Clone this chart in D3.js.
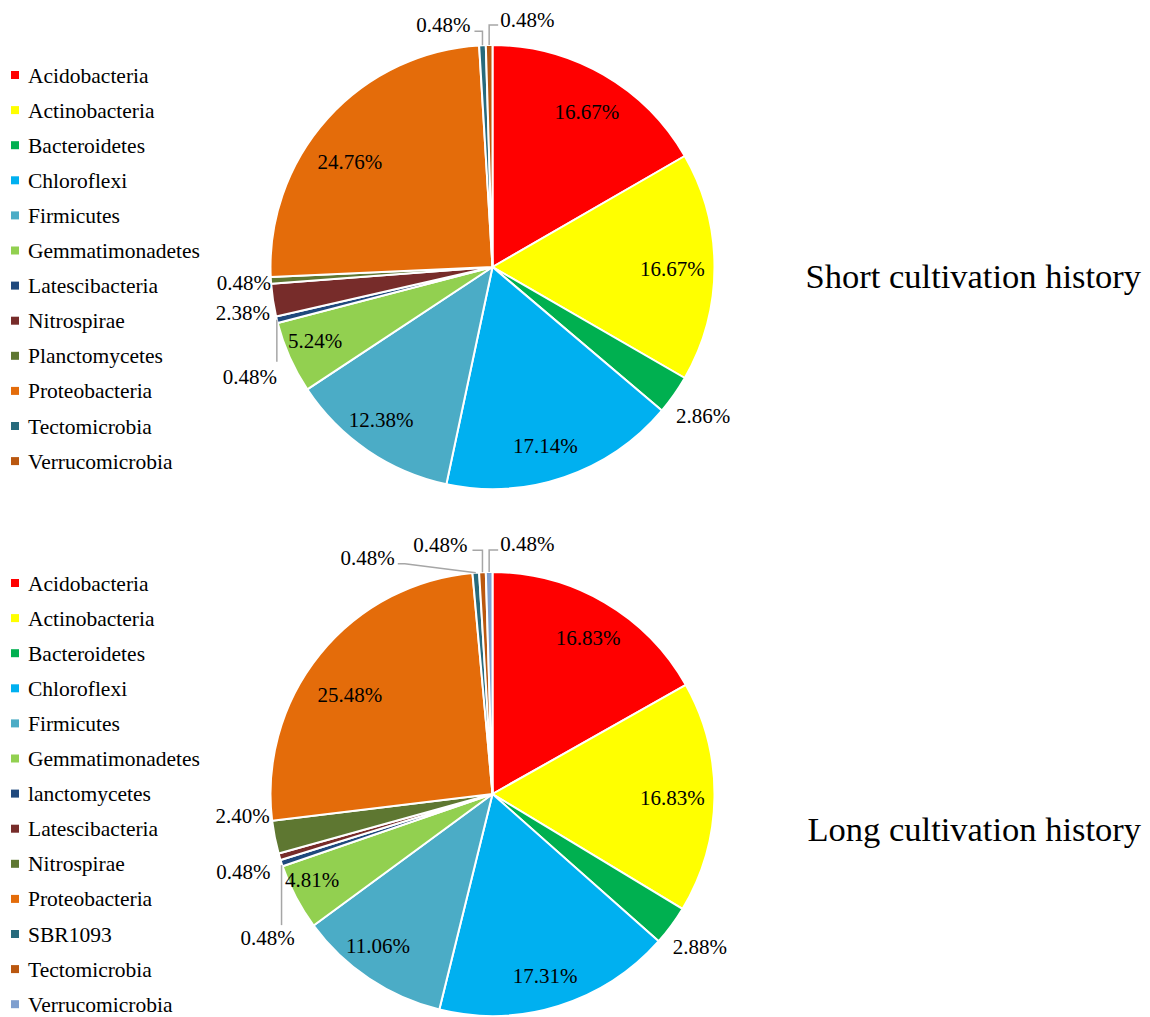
<!DOCTYPE html>
<html>
<head>
<meta charset="utf-8">
<script src="https://cdn.jsdelivr.net/npm/d3@7"></script>
<style>
  html, body { margin: 0; padding: 0; background: #fff; }
  svg text { font-family: "Liberation Serif", "Times New Roman", serif; fill: #000; }
</style>
</head>
<body>
<svg id="chart" width="1150" height="1017"></svg>
<script>
// Phylum composition (percent of OTUs) for the two cultivation histories
const shortCategories = ["Acidobacteria", "Actinobacteria", "Bacteroidetes", "Chloroflexi", "Firmicutes",
  "Gemmatimonadetes", "Latescibacteria", "Nitrospirae", "Planctomycetes", "Proteobacteria",
  "Tectomicrobia", "Verrucomicrobia"];
const shortValues = [16.67, 16.67, 2.86, 17.14, 12.38, 5.24, 0.48, 2.38, 0.48, 24.76, 0.48, 0.48];

const longCategories = ["Acidobacteria", "Actinobacteria", "Bacteroidetes", "Chloroflexi", "Firmicutes",
  "Gemmatimonadetes", "lanctomycetes", "Latescibacteria", "Nitrospirae", "Proteobacteria",
  "SBR1093", "Tectomicrobia", "Verrucomicrobia"];
const longValues = [16.83, 16.83, 2.88, 17.31, 11.06, 4.81, 0.48, 0.48, 2.40, 25.48, 0.48, 0.48, 0.48];

const titles = ["Short cultivation history", "Long cultivation history"];

// Slice colours, assigned in series order
const palette = ["#FF0000", "#FFFF00", "#00B050", "#00B0F0", "#4BACC6", "#92D050",
  "#1F497D", "#772C2A", "#5E7731", "#E46C0A", "#276A7C", "#BA570F", "#7F9FCF"];

// Inside-label placement: radius as a fraction of R, angular nudge in degrees
const shortInside = { 0: [0.82, 1.2], 1: [0.81, 0.6], 3: [0.84, 2.4], 4: [0.853, 1.8], 5: [0.866, 1.4], 9: [0.80, -5.4] };
const longInside = { 0: [0.824, 1.2], 1: [0.81, 0.4], 3: [0.85, 1.1], 4: [0.857, 3.2], 5: [0.90, 2.2], 9: [0.784, -4] };

// Placement of the labels drawn outside small slices, relative to the slice's outer edge point
const shortOutside = [
  { i: 2, radial: 1.16 },
  { i: 6, anchor: "middle", dx: -27, dy: 57, leader: [[0, 0], [0, 42]] },
  { i: 7, anchor: "end", dx: -3, dy: 13 },
  { i: 8, anchor: "end", dx: 0, dy: 2 },
  { i: 10, anchor: "end", dx: -12, dy: -21, leader: [[0, 0], [0, -14], [-8, -14]] },
  { i: 11, anchor: "start", dx: 11, dy: -25, leader: [[0, 0], [0, -20], [9, -20]] }
];
const longOutside = [
  { i: 2, radial: 1.16 },
  { i: 6, anchor: "middle", dx: -14, dy: 75, leader: [[0, 2], [0, 62]] },
  { i: 7, anchor: "end", dx: -9, dy: 15 },
  { i: 8, anchor: "end", dx: -5, dy: -22 },
  { i: 10, anchor: "end", dx: -81, dy: -15, leader: [[0, 0], [-71, -9], [-78, -9]] },
  { i: 11, anchor: "end", dx: -15, dy: -28, leader: [[0, 0], [0, -22], [-10, -22]] },
  { i: 12, anchor: "start", dx: 11, dy: -28, leader: [[0, 0], [0, -22], [9, -22]] }
];

const svg = d3.select("#chart");
const R = 222;
const LABEL_SIZE = 21, LEGEND_SIZE = 21.5, TITLE_SIZE = 34.5;

const pie = d3.pie().sort(null).value(d => d);
const arc = d3.arc().innerRadius(0).outerRadius(R);
const fmt = v => v.toFixed(2) + "%";

// Text placed at (x, y), vertically centred
function label(parent, x, y, str, size, anchor) {
  return parent.append("text")
    .attr("x", x).attr("y", y)
    .attr("text-anchor", anchor || "middle")
    .attr("dy", "0.35em")
    .style("font-size", size + "px")
    .text(str);
}

function drawPanel(cfg) {
  const { categories, values, cx, cy, legendTop, title, titleY, outside, inside } = cfg;
  const color = d3.scaleOrdinal().domain(categories).range(palette);
  const arcs = pie(values);

  // Legend
  const legend = svg.append("g").attr("transform", `translate(0,${legendTop})`);
  const rowStep = 35.1;
  categories.forEach((name, k) => {
    const row = legend.append("g").attr("transform", `translate(0,${k * rowStep})`);
    row.append("rect").attr("x", 11).attr("y", -4).attr("width", 8).attr("height", 8)
      .attr("fill", color(name));
    label(row, 28, 0, name, LEGEND_SIZE, "start");
  });

  // Pie
  const g = svg.append("g").attr("transform", `translate(${cx},${cy})`);
  g.selectAll("path").data(arcs).join("path")
    .attr("d", arc)
    .attr("fill", (d, k) => color(categories[k]))
    .attr("stroke", "#fff").attr("stroke-width", 2).attr("stroke-linejoin", "round");

  // Labels inside the larger slices
  arcs.forEach((d, k) => {
    const p = inside[k];
    if (!p) return;
    const a = (d.startAngle + d.endAngle) / 2 + p[1] * Math.PI / 180;
    const r = R * p[0];
    label(g, r * Math.sin(a), -r * Math.cos(a), fmt(d.value), LABEL_SIZE);
  });

  // Labels (and leader lines) for the small slices
  outside.forEach(o => {
    const d = arcs[o.i];
    const a = (d.startAngle + d.endAngle) / 2;
    const ex = R * Math.sin(a), ey = -R * Math.cos(a);
    if (o.radial) {
      label(g, ex * o.radial, ey * o.radial, fmt(d.value), LABEL_SIZE);
      return;
    }
    if (o.leader) {
      g.append("path")
        .attr("d", d3.line()(o.leader.map(p => [ex + p[0], ey + p[1]])))
        .attr("fill", "none").attr("stroke", "#A6A6A6").attr("stroke-width", 1.5);
    }
    label(g, ex + o.dx, ey + o.dy, fmt(d.value), LABEL_SIZE, o.anchor);
  });

  // Panel title
  label(svg, 1141, titleY, title, TITLE_SIZE, "end");
}

drawPanel({ categories: shortCategories, values: shortValues, cx: 492.5, cy: 267,
  legendTop: 75, title: titles[0], titleY: 276, outside: shortOutside, inside: shortInside });
drawPanel({ categories: longCategories, values: longValues, cx: 492.5, cy: 794,
  legendTop: 583, title: titles[1], titleY: 829, outside: longOutside, inside: longInside });
</script>
</body>
</html>
